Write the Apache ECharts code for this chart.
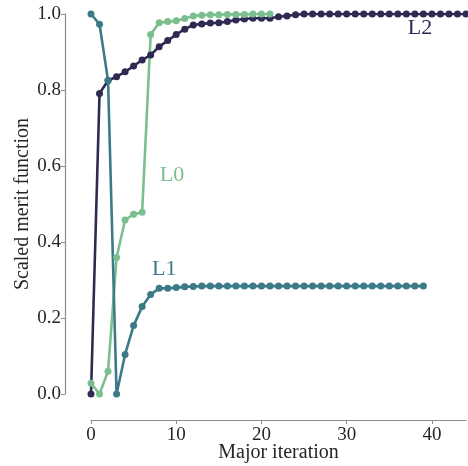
<!DOCTYPE html>
<html>
<head>
<meta charset="utf-8">
<script src="https://cdn.jsdelivr.net/npm/echarts@6/dist/echarts.min.js"></script>
<style>html,body{margin:0;padding:0;background:#fff;}#c{width:468px;height:466px;}</style>
</head>
<body>
<div id="c"></div>
<script>
var seriesNames = ['L2', 'L0', 'L1'];
var L0 = [0.028, 0.0, 0.06, 0.359, 0.458, 0.473, 0.478, 0.946, 0.977, 0.980, 0.982, 0.988, 0.995, 0.997, 0.998, 0.998, 0.999, 0.999, 0.999, 1.0, 1.0, 1.0];
var L1 = [1.0, 0.973, 0.825, 0.0, 0.104, 0.18, 0.23, 0.262, 0.278, 0.278, 0.28, 0.282, 0.283, 0.284, 0.284, 0.284, 0.284, 0.284, 0.284, 0.284, 0.284, 0.284, 0.284, 0.284, 0.284, 0.284, 0.284, 0.284, 0.284, 0.284, 0.284, 0.284, 0.284, 0.284, 0.284, 0.284, 0.284, 0.284, 0.284, 0.284];
var L2 = [0.0, 0.791, 0.825, 0.835, 0.848, 0.863, 0.879, 0.892, 0.914, 0.930, 0.946, 0.960, 0.971, 0.974, 0.976, 0.977, 0.980, 0.984, 0.987, 0.989, 0.989, 0.989, 0.993, 0.995, 0.998, 1.0, 1.0, 1.0, 1.0, 1.0, 1.0, 1.0, 1.0, 1.0, 1.0, 1.0, 1.0, 1.0, 1.0, 1.0, 1.0, 1.0, 1.0, 1.0, 1.0];
var labelPos = { L0: [9.5, 0.576], L1: [8.6, 0.329], L2: [38.6, 0.963] };
var xTicks = [0, 10, 20, 30, 40];
var yTicks = [0.0, 0.2, 0.4, 0.6, 0.8, 1.0];

var colors = { L0: '#7bbf8e', L1: '#3d7a88', L2: '#2e2a52' };
var dataMap = { L0: L0, L1: L1, L2: L2 };
var FONT = 'Liberation Serif';

function pairs(arr) { return arr.map(function (v, i) { return [i, v]; }); }

var chart = echarts.init(document.getElementById('c'), null, { renderer: 'canvas' });
chart.setOption({
  backgroundColor: '#ffffff',
  animation: false,
  grid: { left: 91, right: 2, top: 14, bottom: 72, containLabel: false, outerBoundsMode: 'none' },
  xAxis: {
    type: 'value', min: 0, max: 44, interval: 10, offset: 26,
    axisLine: { show: true, onZero: false, lineStyle: { color: '#8c8c8c', width: 1.2 } },
    axisTick: { show: true, length: 4, lineStyle: { color: '#8c8c8c' } },
    splitLine: { show: false },
    axisLabel: { fontFamily: FONT, fontSize: 19, color: '#262626', margin: 6,
      showMaxLabel: false,
      formatter: function (v) { return xTicks.indexOf(v) >= 0 ? String(v) : ''; } },
    name: 'Major iteration', nameLocation: 'middle', nameGap: 23, nameMoveOverlap: false,
    nameTextStyle: { fontFamily: FONT, fontSize: 20, color: '#262626' }
  },
  yAxis: {
    type: 'value', min: 0, max: 1, interval: 0.2, offset: 26,
    axisLine: { show: true, onZero: false, lineStyle: { color: '#8c8c8c', width: 1.2 } },
    axisTick: { show: true, length: 4, lineStyle: { color: '#8c8c8c' } },
    splitLine: { show: false },
    axisLabel: { fontFamily: FONT, fontSize: 19, color: '#262626', margin: 4,
      formatter: function (v) { return v.toFixed(1); } },
    name: 'Scaled merit function', nameLocation: 'middle', nameGap: 32, nameMoveOverlap: false,
    nameTextStyle: { fontFamily: FONT, fontSize: 20, color: '#262626' }
  },
  series: seriesNames.map(function (n) {
    return {
      name: n, type: 'line', data: pairs(dataMap[n]),
      symbol: 'circle', symbolSize: 7, showSymbol: true,
      lineStyle: { color: colors[n], width: 2.6 },
      itemStyle: { color: colors[n] },
      clip: true,
      markPoint: {
        symbol: 'circle', symbolSize: 0,
        data: [{ coord: labelPos[n], value: n }],
        label: { show: true, position: 'inside', formatter: n,
          fontFamily: FONT, fontSize: 22, color: colors[n] }
      }
    };
  })
});
</script>
</body>
</html>
